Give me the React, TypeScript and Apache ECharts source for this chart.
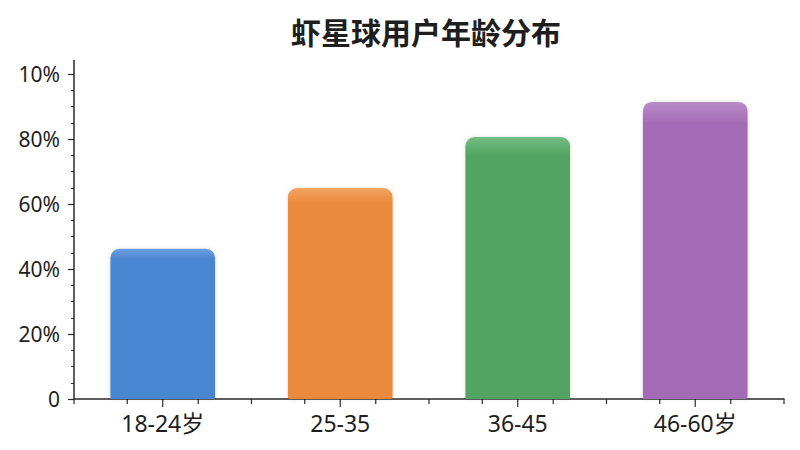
import React, { useEffect, useRef } from "react";
import * as echarts from "echarts";

const TITLE = "虾星球用户年龄分布";
const categories = ["18-24岁", "25-35", "36-45", "46-60岁"];
const values = [46.2, 64.9, 80.6, 91.4];
const barColors = ["#4a86d2", "#ea8a3c", "#53a462", "#a46cb6"];
const barTopColors = ["#6a9fe0", "#f3a463", "#74bb83", "#b98ac8"];
const yTickLabels = ["0", "20%", "40%", "60%", "80%", "10%"];
// x-axis tick marks inside each category band: [fraction of band, tick length]
const bandTicks: [number, number][] = [
  [0, 5],
  [0.3, 5],
  [0.5, 8],
  [0.7, 5],
];

export default function App() {
  const ref = useRef<HTMLDivElement>(null);
  useEffect(() => {
    document.body.style.margin = "0";
    const chart = echarts.init(ref.current!, null, { renderer: "svg" });
    const n = categories.length;
    const tickData = categories
      .flatMap((_, k) => bandTicks.map(([f, len]) => [k + f, 0, len]))
      .concat([[n, 0, 5]]);
    const font = "'Noto Sans', 'Noto Sans CJK SC', sans-serif";
    chart.setOption({
      animation: false,
      backgroundColor: "#ffffff",
      title: {
        text: TITLE,
        left: 286,
        top: 11,
        textStyle: {
          fontFamily: "'Noto Sans CJK SC', sans-serif",
          fontSize: 30,
          fontWeight: "bold",
          color: "#1e1e1e",
        },
      },
      grid: { left: 74, right: 16, top: 74, bottom: 51, containLabel: false },
      xAxis: [
        {
          type: "category",
          data: categories,
          axisLine: { lineStyle: { color: "#2a2a2a", width: 1.5 } },
          axisTick: { show: false },
          axisLabel: { fontFamily: font, fontSize: 23, color: "#1e1e1e", margin: 12 },
        },
        {
          type: "value",
          min: 0,
          max: n,
          show: false,
        },
      ],
      yAxis: {
        type: "value",
        min: 0,
        max: 100,
        interval: 20,
        axisLine: {
          show: true,
          symbol: ["none", "rect"],
          symbolSize: [1.5, 14],
          symbolOffset: [0, 7],
          lineStyle: { color: "#2a2a2a", width: 1.5 },
        },
        axisTick: { show: true, length: 6, lineStyle: { color: "#2a2a2a", width: 1.2 } },
        minorTick: { show: true, splitNumber: 4, length: 3, lineStyle: { color: "#2a2a2a", width: 1 } },
        splitLine: { show: false },
        axisLabel: {
          fontFamily: font,
          fontSize: 21,
          color: "#1e1e1e",
          margin: 14,
          formatter: (v: number) => yTickLabels[Math.round(v / 20)] ?? "",
        },
      },
      series: [
        {
          type: "bar",
          barWidth: "59%",
          xAxisIndex: 0,
          data: values.map((v, i) => ({
            value: v,
            itemStyle: {
              color: new echarts.graphic.LinearGradient(0, 0, 0, 1, [
                { offset: 0, color: barTopColors[i] },
                { offset: 0.07, color: barColors[i] },
                { offset: 1, color: barColors[i] },
              ]),
              borderRadius: [9, 9, 2, 2],
              shadowBlur: 4,
              shadowColor: "rgba(0,0,0,0.12)",
            },
          })),
        },
        {
          type: "custom",
          xAxisIndex: 1,
          yAxisIndex: 0,
          clip: false,
          silent: true,
          data: tickData,
          renderItem: (_params: any, api: any) => {
            const p = api.coord([api.value(0), api.value(1)]);
            const len = api.value(2);
            return {
              type: "line",
              shape: { x1: p[0], y1: p[1], x2: p[0], y2: p[1] + len },
              style: { stroke: "#2a2a2a", lineWidth: 1.2 },
            };
          },
        },
      ],
    });
    return () => chart.dispose();
  }, []);
  return <div ref={ref} style={{ width: 800, height: 450 }} />;
}
